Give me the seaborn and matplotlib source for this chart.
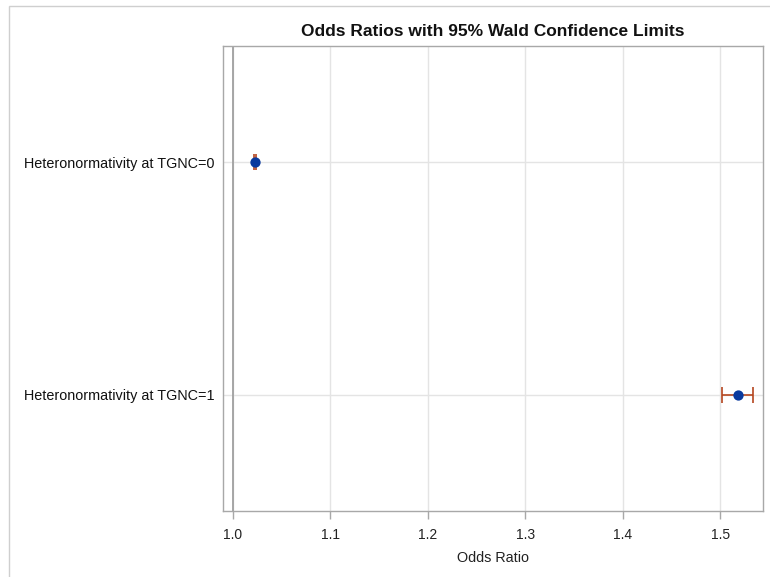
import matplotlib
matplotlib.use("Agg")
import matplotlib.pyplot as plt
import matplotlib.patches as mpatches
import seaborn as sns
import pandas as pd

# Odds ratio estimates with 95% Wald confidence limits
effects = ["Heteronormativity at TGNC=0", "Heteronormativity at TGNC=1"]
odds_ratio = [1.0226, 1.5185]
lower_cl = [1.0212, 1.5020]
upper_cl = [1.0240, 1.5340]
x_ticks = [1.0, 1.1, 1.2, 1.3, 1.4, 1.5]

df = pd.DataFrame({"Effect": effects, "OR": odds_ratio,
                   "Lower": lower_cl, "Upper": upper_cl})

sns.set_style("white")
plt.rcParams["font.family"] = ["Liberation Sans", "DejaVu Sans"]

fig = plt.figure(figsize=(7.7, 5.77), dpi=100)
ax = fig.add_axes([223 / 770, 1 - 511 / 577, 540 / 770, 465 / 577])

grid_col = "#e4e4e4"
frame_col = "#a8a8a8"

# reference line at OR = 1
ax.axvline(1.0, color="#a0a0a0", lw=1.3, zorder=1)

# confidence limits
ax.errorbar(df["OR"], range(len(df)),
            xerr=[df["OR"] - df["Lower"], df["Upper"] - df["OR"]],
            fmt="none", ecolor="#B5461F", elinewidth=1.2, capsize=6,
            capthick=1.2, zorder=3)

# point estimates
sns.scatterplot(data=df, x="OR", y="Effect", ax=ax, color="#0A3A9E",
                s=55, edgecolor="#0A3A9E", linewidth=0, zorder=4)

ax.set_xlim(0.9897, 1.544)
ax.set_ylim(1.5, -0.5)
ax.set_xticks(x_ticks)
ax.set_xticklabels([f"{t:.1f}" for t in x_ticks])
ax.set_yticks(range(len(effects)))
ax.set_yticklabels(effects)

ax.grid(True, color=grid_col, lw=1, zorder=0)
ax.set_axisbelow(True)
for sp in ax.spines.values():
    sp.set_color(frame_col)
    sp.set_linewidth(1)

ax.tick_params(axis="x", direction="out", length=6, width=1, color=frame_col,
               labelsize=10, labelcolor="#222222", pad=6, bottom=True)
ax.tick_params(axis="y", length=0, labelsize=10.4, labelcolor="#111111", pad=6)

ax.set_xlabel("Odds Ratio", fontsize=10.4, color="#222222", labelpad=7)
ax.set_ylabel("")
ax.set_title("Odds Ratios with 95% Wald Confidence Limits",
             fontsize=12.5, fontweight="bold", color="#111111", pad=7)

# outer panel border
fig.patches.append(mpatches.Rectangle((9 / 770, -0.1), 1.2, 1 - 6 / 577 + 0.1,
                                      transform=fig.transFigure, fill=False,
                                      edgecolor="#cfcfcf", lw=1))

fig.savefig("out.png", dpi=100)
